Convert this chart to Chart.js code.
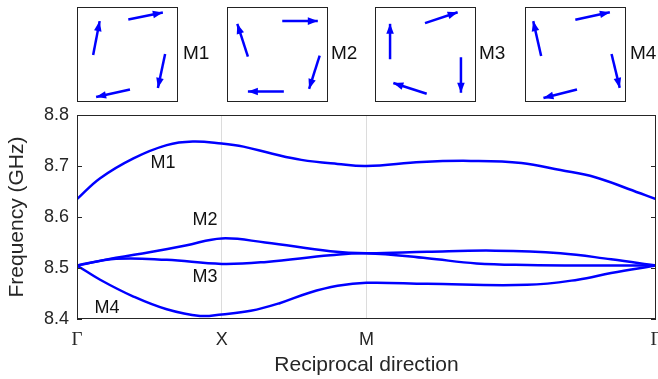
<!DOCTYPE html>
<html lang="en">
<head>
  <meta charset="UTF-8">
  <title>Band structure</title>
  <script src="https://cdn.jsdelivr.net/npm/chart.js"></script>
</head>

<style>
  body { margin: 0; background: #fff; font-family: "Liberation Sans", Arial, sans-serif; }
  .wrap { position: relative; width: 658px; height: 379px; }
  #bandChart { position: absolute; left: 0; top: 0; }
  .modo {
    position: absolute; top: 7px; width: 101px; height: 95px;
    border: 1.5px solid #222; box-sizing: border-box;
  }
  .rotulo { position: absolute; top: 42px; font-size: 19px; color: #111; }
</style>

<body>
  <div class="wrap">
    <canvas id="bandChart" width="658" height="379"></canvas>

    <!-- Insets com os modos -->
    <div class="modo" style="left:77px"><canvas id="modo1"></canvas></div>
    <span class="rotulo" style="left:183px">M1</span>
    <div class="modo" style="left:227px"><canvas id="modo2"></canvas></div>
    <span class="rotulo" style="left:331px">M2</span>
    <div class="modo" style="left:375px"><canvas id="modo3"></canvas></div>
    <span class="rotulo" style="left:479px">M3</span>
    <div class="modo" style="left:525px"><canvas id="modo4"></canvas></div>
    <span class="rotulo" style="left:630px">M4</span>
  </div>

  <script>
    // Caminho Γ - X - M - Γ
    const tickPos = [0, 1, 2, 4];
    const tickLabels = ['Γ', 'X', 'M', 'Γ'];

    const m1x = [0, 0.16, 0.39, 0.62, 0.80, 1.0, 1.15, 1.35, 1.55, 1.8, 2.0, 2.38, 2.72, 3.07, 3.34, 3.58, 3.81, 4.0];
    const m1y = [8.635, 8.676, 8.715, 8.741, 8.748, 8.744, 8.738, 8.724, 8.712, 8.704, 8.700, 8.708, 8.710, 8.706, 8.692, 8.678, 8.655, 8.635];

    const m2x = [0, 0.27, 0.5, 0.75, 1.0, 1.3, 1.75, 2.0, 2.42, 2.89, 3.34, 3.69, 4.0];
    const m2y = [8.505, 8.520, 8.531, 8.544, 8.558, 8.550, 8.533, 8.529, 8.532, 8.534, 8.529, 8.517, 8.505];

    const m3x = [0, 0.27, 0.62, 1.0, 1.31, 1.75, 2.0, 2.42, 2.76, 3.11, 3.58, 4.0];
    const m3y = [8.505, 8.518, 8.516, 8.508, 8.512, 8.525, 8.529, 8.519, 8.509, 8.506, 8.505, 8.505];

    const m4x = [0, 0.16, 0.39, 0.62, 0.85, 1.0, 1.2, 1.4, 1.6, 1.8, 2.0, 2.42, 3.11, 3.46, 3.69, 4.0];
    const m4y = [8.505, 8.477, 8.444, 8.419, 8.406, 8.409, 8.416, 8.431, 8.451, 8.465, 8.471, 8.469, 8.467, 8.477, 8.490, 8.505];

    // rótulos das curvas (posição em coordenadas de dados)
    const curveNames = ['M1', 'M2', 'M3', 'M4'];
    const curveLabelX = [0.594, 0.884, 0.884, 0.207];
    const curveLabelY = [8.706, 8.594, 8.482, 8.422];

    // setas dos insets: [x0, y0, x1, y1] normalizados (0..1), ponta em x1,y1
    const setas1 = [[0.153, 0.495, 0.219, 0.859], [0.508, 0.876, 0.857, 0.951], [0.880, 0.505, 0.807, 0.141], [0.525, 0.124, 0.183, 0.042]];
    const setas2 = [[0.201, 0.477, 0.094, 0.830], [0.548, 0.859, 0.907, 0.859], [0.926, 0.488, 0.819, 0.131], [0.564, 0.102, 0.201, 0.102]];
    const setas3 = [[0.142, 0.449, 0.142, 0.830], [0.495, 0.837, 0.825, 0.954], [0.858, 0.470, 0.858, 0.088], [0.512, 0.078, 0.175, 0.194]];
    const setas4 = [[0.153, 0.484, 0.073, 0.859], [0.498, 0.873, 0.847, 0.954], [0.864, 0.505, 0.947, 0.141], [0.515, 0.124, 0.176, 0.032]];

    const azul = '#0000ff';
    const cinza = '#262626';
    const sans = '"Liberation Sans", Arial, sans-serif';

    function pares(xs, ys) {
      return xs.map((x, i) => ({ x: x, y: ys[i] }));
    }

    function serie(xs, ys) {
      return {
        data: pares(xs, ys),
        showLine: true,
        borderColor: azul,
        borderWidth: 2.5,
        pointRadius: 0,
        tension: 0.4,
        fill: false
      };
    }

    // caixa, marcas internas e rótulos das curvas
    const moldura = {
      id: 'moldura',
      afterDraw(chart) {
        const ctx = chart.ctx;
        const a = chart.chartArea;
        const xs = chart.scales.x, ys = chart.scales.y;
        ctx.save();
        ctx.strokeStyle = cinza;
        ctx.lineWidth = 1;
        ctx.strokeRect(a.left + 0.5, a.top + 0.5, a.right - a.left - 1, a.bottom - a.top - 1);
        ys.ticks.forEach(t => {
          const py = Math.round(ys.getPixelForValue(t.value)) + 0.5;
          ctx.beginPath();
          ctx.moveTo(a.left, py); ctx.lineTo(a.left + 5, py);
          ctx.moveTo(a.right, py); ctx.lineTo(a.right - 5, py);
          ctx.stroke();
        });
        ctx.fillStyle = '#111';
        ctx.font = '18px ' + sans;
        ctx.textAlign = 'center';
        ctx.textBaseline = 'middle';
        curveNames.forEach((n, i) => {
          ctx.fillText(n, xs.getPixelForValue(curveLabelX[i]), ys.getPixelForValue(curveLabelY[i]));
        });
        ctx.restore();
      }
    };

    const ctx = document.getElementById('bandChart').getContext('2d');
    const chart = new Chart(ctx, {
      type: 'scatter',
      data: {
        datasets: [serie(m1x, m1y), serie(m2x, m2y), serie(m3x, m3y), serie(m4x, m4y)]
      },
      options: {
        responsive: false,
        animation: false,
        layout: { padding: { top: 115, right: 2, left: 0, bottom: 0 } },
        plugins: { legend: { display: false }, tooltip: { enabled: false } },
        scales: {
          x: {
            type: 'linear', min: 0, max: 4,
            afterBuildTicks(scale) { scale.ticks = tickPos.map(v => ({ value: v })); },
            afterFit(scale) { scale.height = 60; scale.paddingLeft = 0; scale.paddingRight = 0; },
            ticks: {
              autoSkip: false, maxRotation: 0, padding: 10, color: cinza,
              font: c => (c.tick && (c.tick.value === 0 || c.tick.value === 4))
                ? { size: 19, family: '"Liberation Serif", "Times New Roman", serif' }
                : { size: 18, family: sans },
              callback: (v, i) => tickLabels[i]
            },
            grid: {
              color: c => (c.tick && (c.tick.value === 1 || c.tick.value === 2)) ? '#dcdcdc' : 'rgba(0,0,0,0)',
              drawTicks: false
            },
            border: { display: false },
            title: {
              display: true, text: 'Reciprocal direction', color: cinza, padding: { top: 0, bottom: 1 },
              font: { size: 21, family: sans }
            }
          },
          y: {
            min: 8.4, max: 8.8,
            afterFit(scale) { scale.width = 77; },
            ticks: {
              stepSize: 0.1, padding: 8, color: cinza,
              font: { size: 18, family: sans },
              callback: v => v.toFixed(1)
            },
            grid: { display: false, drawTicks: false },
            border: { display: false },
            title: {
              display: true, text: 'Frequency (GHz)', color: cinza, padding: { top: 5, bottom: 0 },
              font: { size: 21, family: sans }
            }
          }
        }
      },
      plugins: [moldura]
    });

    // pontas das setas
    const pontas = {
      id: 'pontas',
      afterDatasetsDraw(c) {
        const g = c.ctx;
        g.save();
        g.fillStyle = azul;
        c.data.datasets.forEach((d, i) => {
          const pts = c.getDatasetMeta(i).data;
          const p0 = pts[0], p1 = pts[1];
          const ang = Math.atan2(p1.y - p0.y, p1.x - p0.x);
          const L = 10, W = 3.8;
          g.beginPath();
          g.moveTo(p1.x, p1.y);
          g.lineTo(p1.x - L * Math.cos(ang) + W * Math.sin(ang), p1.y - L * Math.sin(ang) - W * Math.cos(ang));
          g.lineTo(p1.x - L * Math.cos(ang) - W * Math.sin(ang), p1.y - L * Math.sin(ang) + W * Math.cos(ang));
          g.closePath();
          g.fill();
        });
        g.restore();
      }
    };

    function desenhaModo(id, setas) {
      new Chart(document.getElementById(id), {
        type: 'scatter',
        data: {
          datasets: setas.map(s => ({
            data: [{ x: s[0], y: s[1] }, { x: s[2], y: s[3] }],
            showLine: true, borderColor: azul, borderWidth: 2.5, pointRadius: 0
          }))
        },
        options: {
          responsive: true, maintainAspectRatio: false, animation: false,
          layout: { padding: 0 },
          plugins: { legend: { display: false }, tooltip: { enabled: false } },
          scales: {
            x: { min: 0, max: 1, display: false },
            y: { min: 0, max: 1, display: false }
          }
        },
        plugins: [pontas]
      });
    }

    desenhaModo('modo1', setas1);
    desenhaModo('modo2', setas2);
    desenhaModo('modo3', setas3);
    desenhaModo('modo4', setas4);
  </script>
</body>
</html>
